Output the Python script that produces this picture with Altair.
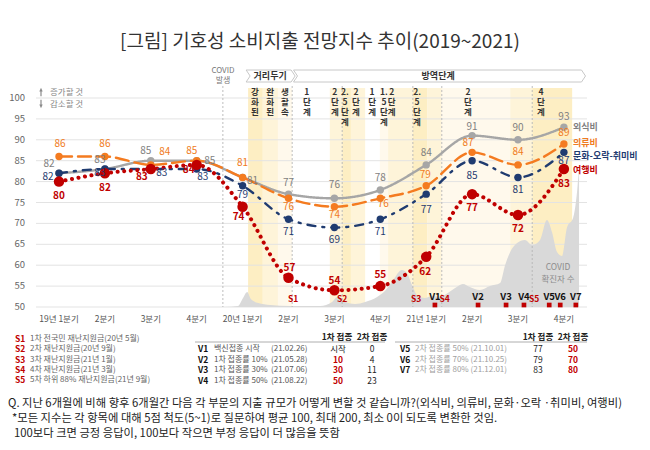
import altair as alt
import pandas as pd

FONT = "Noto Sans CJK KR"

# ---------------- data ----------------
quarter_labels = ["19년 1분기", "2분기", "3분기", "4분기", "20년 1분기", "2분기",
                  "3분기", "4분기", "21년 1분기", "2분기", "3분기", "4분기"]
quarter_pos = [0, 1, 2, 3, 4, 5, 6, 7, 8, 9, 10, 11]
series_names = ["외식비", "의류비", "문화-오락-취미비", "여행비"]
dining = [82, 83, 85, 85, 81, 77, 76, 78, 84, 91, 90, 93]
clothing = [86, 86, 84, 85, 81, 76, 74, 76, 79, 87, 84, 89]
culture = [82, 83, 83, 83, 79, 71, 69, 71, 77, 85, 81, 87]
travel = [80, 82, 83, 84, 74, 57, 54, 55, 62, 77, 72, 83]
y_ticks = [50, 55, 60, 65, 70, 75, 80, 85, 90, 95, 100]

# COVID daily confirmed cases (approx.), position in quarter units
covid_pos = [3.62, 3.90, 4.01, 4.10, 4.18, 4.34, 4.60, 5.03, 5.69, 5.95, 6.06, 6.19,
             6.45, 6.67, 6.93, 7.12, 7.28, 7.47, 7.58, 7.69, 7.82, 7.97, 8.13, 8.30,
             8.47, 8.63, 8.80, 8.95, 9.17, 9.39, 9.61, 9.72, 9.83, 9.98, 10.15, 10.31,
             10.48, 10.63, 10.74, 10.85, 10.96, 11.07, 11.20, 11.29, 11.33]
covid_cases = [0, 40, 360, 600, 320, 160, 80, 40, 40, 200, 400, 240,
               120, 200, 400, 680, 1080, 1480, 1360, 880, 440, 360, 440, 400,
               560, 760, 920, 800, 680, 840, 960, 1680, 2200, 2560, 2680, 2480,
               2680, 3480, 3000, 2200, 2040, 3200, 3560, 4680, 5600]

vacc_names = ["V1", "V2", "V3", "V4", "V5", "V6", "V7"]
vacc_pos = [8.19, 9.13, 9.74, 10.13, 10.68, 10.92, 11.26]
support_names = ["S1", "S2", "S3", "S4", "S5"]
support_pos = [5.10, 6.17, 7.78, 8.40, 10.35]

# distancing stages (bands), stage labels, dashed boundaries
band_start = [4.12, 4.44, 4.77, 5.90, 6.17, 6.36, 6.99, 7.17, 7.71, 8.02, 8.34, 9.83, 10.31]
band_end = [4.44, 4.77, 5.08, 6.17, 6.36, 6.67, 7.17, 7.71, 8.02, 8.34, 9.83, 10.31, 11.18]
band_level = [3, 2, 1, 2, 3, 2, 1, 2, 3, 2, 1, 2, 3]
stage_pos = [4.27, 4.60, 4.92, 5.40, 6.01, 6.23, 6.47, 6.82, 7.08, 7.25, 7.80, 8.91, 10.50]
stage_text = ["강\n화\n된", "완\n화\n된", "생\n활\n속", "1\n단\n계", "2\n단\n계",
              "2.\n5\n단\n계", "2\n단\n계", "1\n단\n계", "1.\n5\n단\n계", "2\n단\n계",
              "2.\n5\n단\n계", "2\n단\n계", "4\n단\n계"]
divider_pos = [3.57, 5.08, 6.17, 7.71, 8.34, 10.31]
header_names = ["거리두기", "방역단계"]
header_center = [4.60, 8.29]
header_text_pos = [4.60, 8.26]

s_desc = ["1차 전국민 재난지원금(20년 5월)", "2차 재난지원금(20년 9월)", "3차 재난지원금(21년 1월)",
          "4차 재난지원금(21년 3월)", "5차 하위 88% 재난지원금(21년 9월)"]
v_desc = ["백신접종 시작", "1차 접종률 10%", "1차 접종률 30%", "1차 접종률 50%"]
v_date = ["(21.02.26)", "(21.05.28)", "(21.07.06)", "(21.08.22)"]
v_first = ["시작", "10", "30", "50"]
v_second = ["0", "4", "11", "23"]
v_late_desc = ["2차 접종률 50% (21.10.01)", "2차 접종률 70% (21.10.25)", "2차 접종률 80% (21.12.01)"]
v_late_first = ["77", "79", "83"]
v_late_second = ["50", "70", "80"]

title = "[그림] 기호성 소비지출 전망지수 추이(2019~2021)"
notes = ["Q. 지난 6개월에 비해 향후 6개월간 다음 각 부문의 지출 규모가 어떻게 변할 것 같습니까?(외식비, 의류비, 문화·오락 ·취미비, 여행비)",
         "*모든 지수는 각 항목에 대해 5점 척도(5~1)로 질문하여 평균 100, 최대 200, 최소 0이 되도록 변환한 것임.",
         "100보다 크면 긍정 응답이, 100보다 작으면 부정 응답이 더 많음을 뜻함"]

# ---------------- layout / style ----------------
W, H = 634, 434
X0, DXQ = 51.0, 45.9       # chart-x of quarter 0, px per quarter
Y50, DYV = 299.0, 4.18     # chart-y of index 50, px per index point
CASES_PER_PX = 40

xscale = alt.Scale(domain=[-X0 / DXQ, (W - X0) / DXQ], nice=False, zero=False)
yscale = alt.Scale(domain=[50 - (H - Y50) / DYV, 50 + Y50 / DYV], nice=False, zero=False)
cscale = alt.Scale(domain=[-(H - Y50) * CASES_PER_PX, Y50 * CASES_PER_PX], nice=False, zero=False)

# chevron-shaped header boxes (symbol paths, unit = 1px at size 4)
chevrons = ["M -24 -6 L 21 -6 L 25 0 L 21 6 L -24 6 L -20 0 Z",
            "M -146 -6 L 142 -6 L 146 0 L 142 6 L -146 6 L -142 0 Z"]


def P(v):
    return v - 8


one = pd.DataFrame({"k": [0]})


def txt(s, x, y, size, color, weight="normal", align="left", baseline="middle"):
    return alt.Chart(one).mark_text(text=s, font=FONT, fontSize=size, color=color,
                                    fontWeight=weight, align=align, baseline=baseline).encode(
        x=alt.value(P(x)), y=alt.value(P(y)))


def hrule(x1, x2, y, color="#9a9a9a", w=0.8):
    return alt.Chart(one).mark_rule(color=color, strokeWidth=w).encode(
        x=alt.value(P(x1)), x2=alt.value(P(x2)), y=alt.value(P(y)))


X = lambda f: alt.X(f, type="quantitative", scale=xscale, axis=None)
Y = lambda f: alt.Y(f, type="quantitative", scale=yscale, axis=None)

# ---------------- background layer ----------------
bands_df = pd.DataFrame({"q0": band_start, "q1": band_end, "level": band_level})
bands = alt.Chart(bands_df).mark_rect().encode(
    x=X("q0"), x2="q1", y=alt.value(P(88)), y2=alt.value(Y50),
    color=alt.Color("level:O", scale=alt.Scale(domain=[1, 2, 3],
                                               range=["#fff9ec", "#fef4d9", "#fdeec3"]), legend=None))

grid = alt.Chart(pd.DataFrame({"v": y_ticks})).mark_rule(color="#e3e3e3", strokeWidth=1).encode(
    x=alt.value(P(36)), x2=alt.value(P(587)), y=Y("v"))
ylabels = alt.Chart(pd.DataFrame({"v": y_ticks})).mark_text(
    font=FONT, fontSize=9.5, color="#666", align="right", baseline="middle").encode(
    x=alt.value(P(25)), y=Y("v"), text="v:Q")
xlabels = alt.Chart(pd.DataFrame({"q": quarter_pos, "t": quarter_labels})).mark_text(
    font=FONT, fontSize=8.5, color="#555", align="center", baseline="middle").encode(
    x=X("q"), y=alt.value(P(319)), text="t:N")

back = alt.layer(bands, grid, ylabels, xlabels)

# ---------------- covid area ----------------
covid = alt.Chart(pd.DataFrame({"q": covid_pos, "c": covid_cases})).mark_area(
    color="#d9d9d9", interpolate="monotone").encode(
    x=X("q"), y=alt.Y("c:Q", scale=cscale, axis=None), y2=alt.datum(0))

# ---------------- front layer ----------------
dividers = alt.Chart(pd.DataFrame({"q": divider_pos})).mark_rule(
    color="#b5b5b5", strokeDash=[2, 2], strokeWidth=0.9).encode(
    x=X("q"), y=alt.value(P(86)), y2=alt.value(Y50))

stages = alt.Chart(pd.DataFrame({"q": stage_pos, "t": stage_text})).mark_text(
    font=FONT, fontSize=8.5, fontWeight="bold", color="#333", lineBreak="\n",
    lineHeight=10, align="center", baseline="top").encode(
    x=X("q"), y=alt.value(P(88)), text="t:N")

hdr_layers = []
for name, qc, qt, shp in zip(header_names, header_center, header_text_pos, chevrons):
    hdf = pd.DataFrame({"name": [name], "qc": [qc], "qt": [qt]})
    hdr_layers.append(alt.Chart(hdf).mark_point(
        shape=shp, size=4, filled=False, fill="white", fillOpacity=1, stroke="#c8c8c8",
        strokeWidth=1, opacity=1).encode(x=X("qc"), y=alt.value(P(76))))
    hdr_layers.append(alt.Chart(hdf).mark_text(
        font=FONT, fontSize=9, fontWeight="bold", color="#333",
        align="center", baseline="middle").encode(x=X("qt"), y=alt.value(P(76)), text="name:N"))

styles = {
    "외식비": dict(color="#a6a6a6", dash=[1, 0], width=2.4, size=55, lab="#7f7f7f", w="normal"),
    "의류비": dict(color="#f47b20", dash=[13, 6], width=2.4, size=55, lab="#f07b22", w="normal"),
    "문화-오락-취미비": dict(color="#1f3b70", dash=[8, 7, 2, 7], width=2.4, size=55, lab="#1f3b70", w="normal"),
    "여행비": dict(color="#c00000", dash=[0.1, 6.5], width=4, size=110, lab="#c00000", w="bold"),
}
label_offsets = {
    "외식비": [(-10, -9), (-5, -9), (-5, -10), (13, 0), (10, 4), (0, -11), (0, -13), (0, -12),
            (0, -12), (0, -9), (0, -12), (0, -10)],
    "의류비": [(1, -13), (0, -13), (14, -13), (-5, -10), (0, -14), (0, 9), (0, 8), (3, 6),
            (-1, -11), (-4, -9), (0, -13), (0, -11)],
    "문화-오락-취미비": [(-11, 4), (-5, 4), (11, 4), (6, 8), (0, 9), (0, 13), (0, 12), (0, 13),
                  (0, 16), (0, 15), (0, 13), (0, 9)],
    "여행비": [(0, 14), (0, 15), (-9, 8), (-8, 5), (-4, 10), (1, -10), (0, -9), (0, -11),
            (-1, 15), (0, 14), (0, 14), (0, 15)],
}
series_values = dict(zip(series_names, [dining, clothing, culture, travel]))

series_layers = []
label_layers = []
for name in series_names:
    st = styles[name]
    df = pd.DataFrame({"q": quarter_pos, "v": series_values[name]})
    line = alt.Chart(df).mark_line(color=st["color"], strokeWidth=st["width"],
                                   strokeDash=st["dash"], strokeCap="round",
                                   interpolate="monotone").encode(x=X("q"), y=Y("v"))
    pts = alt.Chart(df).mark_circle(color=st["color"], size=st["size"], opacity=1).encode(
        x=X("q"), y=Y("v"))
    series_layers += [line, pts]
    for i, (dx, dy) in enumerate(label_offsets[name]):
        ldf = df.iloc[[i]]
        label_layers.append(alt.Chart(ldf).mark_text(
            font=FONT, fontSize=10, color=st["lab"], fontWeight=st["w"],
            dx=dx, dy=dy, align="center", baseline="middle").encode(
            x=X("q"), y=Y("v"), text="v:Q"))

vmark = alt.Chart(pd.DataFrame({"q": vacc_pos, "n": vacc_names})).mark_square(
    color="#c00000", size=22, opacity=1).encode(x=X("q"), y=alt.value(P(305)))
vlab = alt.Chart(pd.DataFrame({"q": vacc_pos, "n": vacc_names})).mark_text(
    font=FONT, fontSize=9.5, fontWeight="bold", color="#111", align="center").encode(
    x=X("q"), y=alt.value(P(297)), text="n:N")
slab = alt.Chart(pd.DataFrame({"q": support_pos, "n": support_names})).mark_text(
    font=FONT, fontSize=8.5, fontWeight="bold", color="#c00000", align="center").encode(
    x=X("q"), y=alt.value(P(299)), text="n:N")

# right-side series legend
legend_y = [127, 143, 156, 170]
legend_layers = [txt(n, 573, yy, 9, styles[n]["lab"], "bold") for n, yy in zip(series_names, legend_y)]

annot = [
    txt(title, 320, 42, 19, "#333", align="center"),
    txt("COVID", 223, 71, 8, "#777", align="center"),
    txt("발생", 223, 81, 8, "#777", align="center"),
    txt("COVID", 558, 267, 8.5, "#8c8c8c", align="center"),
    txt("확진자 수", 558, 279, 8.5, "#8c8c8c", align="center"),
    txt("증가할 것", 50, 92, 8.5, "#888"),
    txt("감소할 것", 50, 104, 8.5, "#888"),
    alt.Chart(one).mark_point(shape="arrow", filled=True, size=70, color="#8a8a8a", opacity=1).encode(
        x=alt.value(P(41)), y=alt.value(P(92))),
    alt.Chart(one).mark_point(shape="arrow", filled=True, size=70, color="#8a8a8a", opacity=1,
                              angle=180).encode(x=alt.value(P(41)), y=alt.value(P(104))),
]

# bottom legend tables
table = []
for i, d in enumerate(s_desc):
    yy = 339 + 10.3 * i
    table.append(txt(support_names[i], 15, yy, 8.5, "#c00000", "bold"))
    table.append(txt(d, 30, yy, 8, "#666"))
table += [txt("1차 접종", 337, 337, 8.5, "#222", "bold", "center"),
          txt("2차 접종", 372, 337, 8.5, "#222", "bold", "center"),
          hrule(195, 385, 342)]
for i in range(4):
    yy = 349 + 10.5 * i
    table.append(txt(vacc_names[i], 198, yy, 8.5, "#111", "bold"))
    table.append(txt(v_desc[i], 214, yy, 8, "#555"))
    table.append(txt(v_date[i], 271, yy, 8, "#555"))
    table.append(txt(v_first[i], 338, yy, 8.5, "#222" if i == 0 else "#c00000",
                     "normal" if i == 0 else "bold", "center"))
    table.append(txt(v_second[i], 372, yy, 8.5, "#222", "normal", "center"))
table += [txt("1차 접종", 538, 337, 8.5, "#222", "bold", "center"),
          txt("2차 접종", 573, 337, 8.5, "#222", "bold", "center"),
          hrule(395, 587, 342)]
for i in range(3):
    yy = 349 + 10.5 * i
    table.append(txt(vacc_names[4 + i], 400, yy, 8.5, "#111", "bold"))
    table.append(txt(v_late_desc[i], 415, yy, 8, "#a0a0a0"))
    table.append(txt(v_late_first[i], 538, yy, 8.5, "#222", "normal", "center"))
    table.append(txt(v_late_second[i], 573, yy, 8.5, "#c00000", "bold", "center"))

foot = [txt(notes[0], 8, 404, 11.3, "#222"),
        txt(notes[1], 12, 419, 11.3, "#222"),
        txt(notes[2], 14, 434, 11.3, "#222")]

front = alt.layer(dividers, stages, *hdr_layers, *series_layers, *label_layers,
                  vmark, vlab, slab, *legend_layers, *annot, *table, *foot)

chart = alt.layer(back, covid, front).resolve_scale(y="independent").properties(
    width=W, height=H, padding=0, autosize=alt.AutoSizeParams(type="none")
).configure_view(stroke=None)

chart.save("out.html", embed_options={"renderer": "svg", "actions": False})
